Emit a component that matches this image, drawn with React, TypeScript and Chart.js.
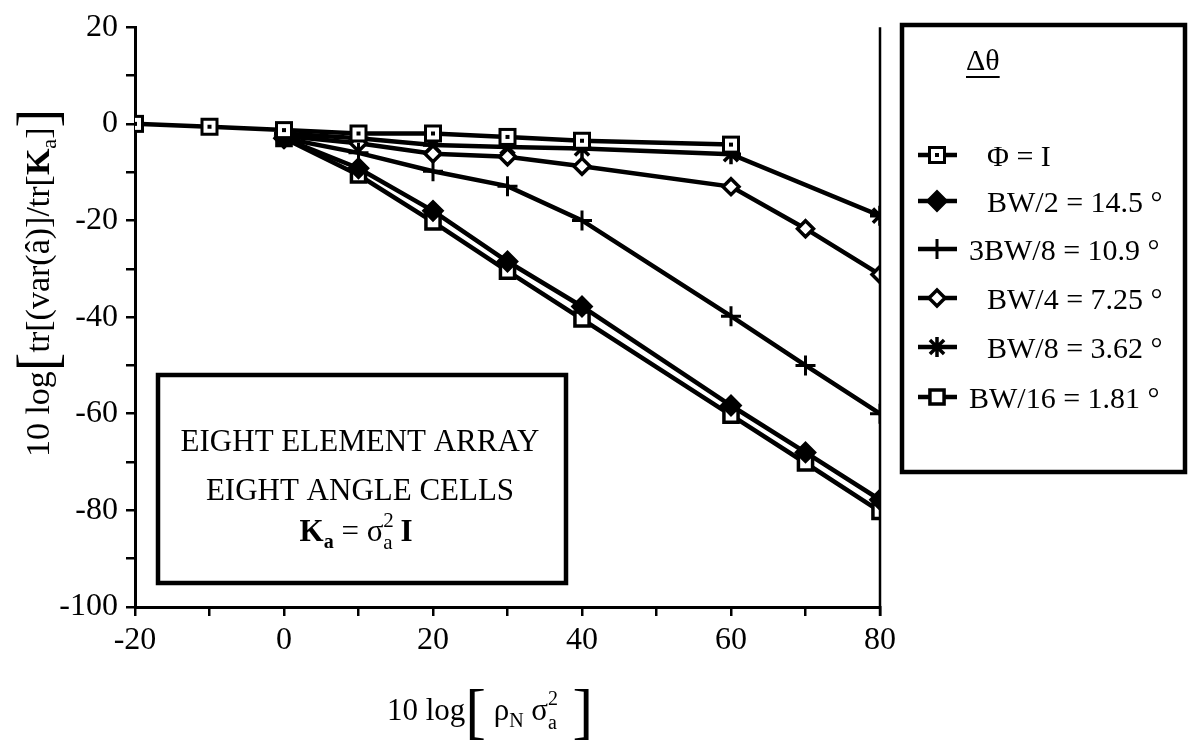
import React, { useEffect, useRef } from 'react';
import { Chart, registerables } from 'chart.js';
import { drawPoint } from 'chart.js/helpers';

Chart.register(...registerables);

// ---------------- data ----------------
const xPhi = [-20, -10, 0, 10, 20, 30, 40, 60];
const yPhi = [0, -0.6, -1.3, -2, -2, -2.7, -3.5, -4.3];

const xMain = [0, 10, 20, 30, 40, 60, 70, 80];
const yBW2 = [-3, -9.2, -18, -28.5, -37.8, -58.3, -68, -77.8];
const y3BW8 = [-3, -6, -9.8, -12.9, -20, -39.8, -50, -60];
const yBW4 = [-2.5, -4, -6.2, -6.8, -8.8, -13, -21.7, -31.2];
const xBW8 = [0, 10, 20, 30, 40, 60, 80];
const yBW8 = [-2, -3, -4.4, -4.8, -5.1, -6.3, -19];
const yBW16 = [-3, -10.6, -20.3, -30.5, -40.4, -60.3, -70.2, -80.2];

const seriesLabels = ['Φ = I', 'BW/2 = 14.5 °', '3BW/8 = 10.9 °', 'BW/4 = 7.25 °', 'BW/8 = 3.62 °', 'BW/16 = 1.81 °'];
const legendTitle = 'Δθ';
const xTickValues = [-20, 0, 20, 40, 60, 80];
const yTickValues = [-100, -80, -60, -40, -20, 0, 20];
const insetLines = ['EIGHT ELEMENT ARRAY', 'EIGHT ANGLE CELLS'];

const FONT = "'Liberation Serif', 'DejaVu Serif', serif";

function pts(xs: number[], ys: number[]) {
  return xs.map((x, i) => ({ x, y: ys[i] }));
}

function makeDotSquare(): HTMLCanvasElement {
  const c = document.createElement('canvas');
  c.width = 20;
  c.height = 20;
  const g = c.getContext('2d')!;
  g.fillStyle = '#fff';
  g.fillRect(2, 2, 16, 16);
  g.strokeStyle = '#000';
  g.lineWidth = 3;
  g.strokeRect(2.5, 2.5, 15, 15);
  g.fillStyle = '#000';
  g.fillRect(8, 8, 4, 4);
  return c;
}

type Run = { text: string; font: string; dy?: number; noAdvance?: boolean };

function runsWidth(ctx: CanvasRenderingContext2D, runs: Run[]) {
  let w = 0;
  for (const r of runs) {
    ctx.font = r.font;
    if (!r.noAdvance) w += ctx.measureText(r.text).width;
  }
  return w;
}

function drawRuns(ctx: CanvasRenderingContext2D, runs: Run[], cx: number, baseline: number) {
  const w = runsWidth(ctx, runs);
  let x = cx - w / 2;
  ctx.textAlign = 'left';
  ctx.textBaseline = 'alphabetic';
  for (const r of runs) {
    ctx.font = r.font;
    ctx.fillText(r.text, x, baseline + (r.dy || 0));
    if (!r.noAdvance) x += ctx.measureText(r.text).width;
  }
}

const annotPlugin = {
  id: 'annot',
  afterDraw(chart: any) {
    const ctx: CanvasRenderingContext2D = chart.ctx;
    const { right, top, bottom } = chart.chartArea;
    ctx.save();
    ctx.fillStyle = '#000';
    ctx.strokeStyle = '#000';

    // right frame line
    ctx.lineWidth = 2.5;
    ctx.beginPath();
    ctx.moveTo(right, top);
    ctx.lineTo(right, bottom + 9);
    ctx.stroke();

    // inset box
    ctx.lineWidth = 4.5;
    ctx.fillStyle = '#fff';
    ctx.fillRect(158, 375, 408, 208);
    ctx.strokeRect(158, 375, 408, 208);
    ctx.fillStyle = '#000';
    const f31 = `31px ${FONT}`;
    drawRuns(ctx, [{ text: insetLines[0], font: f31 }], 360, 451);
    drawRuns(ctx, [{ text: insetLines[1], font: f31 }], 360, 500);
    drawRuns(
      ctx,
      [
        { text: 'K', font: `bold 31px ${FONT}` },
        { text: 'a', font: `bold 20px ${FONT}`, dy: 7 },
        { text: ' = σ', font: f31 },
        { text: '2', font: `21px ${FONT}`, dy: -14, noAdvance: true },
        { text: 'a', font: `21px ${FONT}`, dy: 8 },
        { text: ' I', font: `bold 31px ${FONT}` },
      ],
      356,
      541
    );

    // legend box
    ctx.lineWidth = 4.5;
    ctx.strokeRect(902, 25, 283, 447);
    ctx.font = `30px ${FONT}`;
    ctx.textAlign = 'left';
    ctx.textBaseline = 'alphabetic';
    ctx.fillText(legendTitle, 966, 70);
    const tw = ctx.measureText(legendTitle).width;
    ctx.lineWidth = 2;
    ctx.beginPath();
    ctx.moveTo(966, 77);
    ctx.lineTo(966 + tw, 77);
    ctx.stroke();

    const rows = [155, 201, 249, 298, 347, 397];
    const textX = [987, 987, 969, 987, 987, 969];
    chart.data.datasets.forEach((ds: any, i: number) => {
      const y = rows[i];
      ctx.strokeStyle = '#000';
      ctx.lineWidth = 4.5;
      ctx.beginPath();
      ctx.moveTo(918, y);
      ctx.lineTo(957, y);
      ctx.stroke();
      ctx.fillStyle = ds.pointBackgroundColor;
      ctx.strokeStyle = '#000';
      ctx.lineWidth = ds.pointBorderWidth;
      drawPoint(ctx, { pointStyle: ds.pointStyle, radius: ds.pointRadius, borderWidth: ds.pointBorderWidth, rotation: 0 } as any, 937, y);
      ctx.fillStyle = '#000';
      ctx.font = `30px ${FONT}`;
      ctx.textBaseline = 'alphabetic';
      ctx.fillText(ds.label, textX[i], y + 11);
    });

    // axis titles
    ctx.fillStyle = '#000';
    drawRuns(
      ctx,
      [
        { text: '10 log', font: `31px ${FONT}` },
        { text: '[', font: `62px ${FONT}`, dy: 12 },
        { text: ' ρ', font: `31px ${FONT}` },
        { text: 'N', font: `20px ${FONT}`, dy: 7 },
        { text: ' σ', font: `31px ${FONT}` },
        { text: '2', font: `20px ${FONT}`, dy: -15, noAdvance: true },
        { text: 'a', font: `20px ${FONT}`, dy: 9 },
        { text: ' ]', font: `62px ${FONT}`, dy: 12 },
      ],
      490,
      720
    );

    ctx.save();
    ctx.translate(49, 283);
    ctx.rotate(-Math.PI / 2);
    drawRuns(
      ctx,
      [
        { text: '10 log', font: `34px ${FONT}` },
        { text: '[', font: `56px ${FONT}`, dy: 7 },
        { text: 'tr[(var(â)]/tr[', font: `34px ${FONT}` },
        { text: 'K', font: `bold 34px ${FONT}` },
        { text: 'a', font: `22px ${FONT}`, dy: 7 },
        { text: ']', font: `34px ${FONT}` },
        { text: ']', font: `56px ${FONT}`, dy: 7 },
      ],
      0,
      0
    );
    ctx.restore();

    ctx.restore();
  },
};

export default function App() {
  const ref = useRef<HTMLCanvasElement | null>(null);

  useEffect(() => {
    document.body.style.margin = '0';
    const canvas = ref.current!;
    const dotSquare = makeDotSquare();
    const base = {
      showLine: true,
      borderColor: '#000',
      borderWidth: 4.5,
      pointBorderColor: '#000',
      fill: false,
      tension: 0,
    };
    const chart = new Chart(canvas, {
      type: 'scatter',
      data: {
        datasets: [
          { ...base, label: seriesLabels[0], data: pts(xPhi, yPhi), pointStyle: dotSquare as any, pointRadius: 9, pointBorderWidth: 3, pointBackgroundColor: '#fff' },
          { ...base, label: seriesLabels[1], data: pts(xMain, yBW2), pointStyle: 'rectRot', pointRadius: 10, pointBorderWidth: 2, pointBackgroundColor: '#000' },
          { ...base, label: seriesLabels[2], data: pts(xMain, y3BW8), pointStyle: 'cross', pointRadius: 10, pointBorderWidth: 3, pointBackgroundColor: '#000' },
          { ...base, label: seriesLabels[3], data: pts(xMain, yBW4), pointStyle: 'rectRot', pointRadius: 8, pointBorderWidth: 3.5, pointBackgroundColor: '#fff' },
          { ...base, label: seriesLabels[4], data: pts(xBW8, yBW8), pointStyle: 'star', pointRadius: 10, pointBorderWidth: 3.5, pointBackgroundColor: '#000' },
          { ...base, label: seriesLabels[5], data: pts(xMain, yBW16), pointStyle: 'rect', pointRadius: 10, pointBorderWidth: 3.5, pointBackgroundColor: '#fff' },
        ] as any,
      },
      options: {
        animation: false,
        responsive: false,
        devicePixelRatio: 1,
        layout: { padding: { left: 0, top: 20, right: 311, bottom: 0 } },
        plugins: { legend: { display: false }, tooltip: { enabled: false } },
        scales: {
          x: {
            type: 'linear',
            min: -20,
            max: 80,
            afterFit: (s: any) => {
              s.height = 143;
            },
            ticks: {
              stepSize: 10,
              autoSkip: false,
              maxRotation: 0,
              padding: 5,
              color: '#000',
              font: { family: FONT, size: 32 },
              callback: (v: any) => (xTickValues.includes(v) ? String(v) : ''),
            },
            grid: { drawOnChartArea: false, drawTicks: true, tickLength: 9, color: '#000', lineWidth: 2.5 },
            border: { display: true, color: '#000', width: 3 },
          },
          y: {
            type: 'linear',
            min: -100,
            max: 20,
            afterFit: (s: any) => {
              s.width = 135;
            },
            ticks: {
              stepSize: 10,
              autoSkip: false,
              padding: 8,
              color: '#000',
              font: { family: FONT, size: 32 },
              callback: (v: any) => (yTickValues.includes(v) ? String(v) : ''),
            },
            grid: { drawOnChartArea: false, drawTicks: true, tickLength: 9, color: '#000', lineWidth: 2.5 },
            border: { display: true, color: '#000', width: 3 },
          },
        },
      },
      plugins: [annotPlugin],
    });
    return () => chart.destroy();
  }, []);

  return (
    <div style={{ width: 1191, height: 750, background: '#fff' }}>
      <canvas ref={ref} width={1191} height={750} style={{ display: 'block' }} />
    </div>
  );
}
